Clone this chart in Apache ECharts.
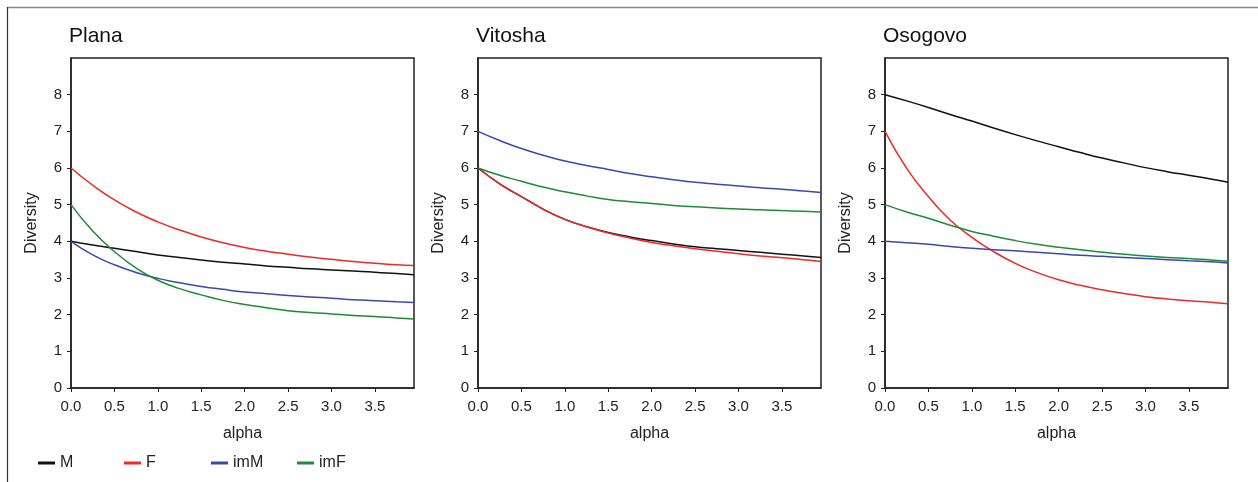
<!DOCTYPE html>
<html>
<head>
<meta charset="utf-8">
<script src="https://cdn.jsdelivr.net/npm/echarts@6/dist/echarts.min.js"></script>
<style>
  html, body { margin: 0; padding: 0; background: #fff; }
  #main { width: 1258px; height: 482px; }
</style>
</head>
<body>
<div id="main"></div>
<script>
// alpha values shared by all panels
var alpha = [0, 0.25, 0.5, 0.75, 1, 1.25, 1.5, 1.75, 2, 2.25, 2.5, 2.75, 3, 3.25, 3.5, 3.75, 3.95];

var panels = ['Plana', 'Vitosha', 'Osogovo'];
var seriesNames = ['M', 'F', 'imM', 'imF'];
var colors = ['#111111', '#f02828', '#3848b0', '#1e8c34'];

// Plana
var planaM   = [4.0, 3.90, 3.81, 3.72, 3.63, 3.56, 3.49, 3.43, 3.38, 3.33, 3.29, 3.25, 3.22, 3.19, 3.16, 3.12, 3.09];
var planaF   = [6.0, 5.53, 5.13, 4.80, 4.53, 4.31, 4.12, 3.96, 3.83, 3.73, 3.65, 3.57, 3.51, 3.45, 3.40, 3.36, 3.34];
var planaImM = [4.0, 3.63, 3.36, 3.15, 2.99, 2.87, 2.77, 2.69, 2.62, 2.57, 2.52, 2.48, 2.45, 2.41, 2.38, 2.35, 2.33];
var planaImF = [5.0, 4.28, 3.72, 3.27, 2.94, 2.71, 2.54, 2.39, 2.28, 2.19, 2.11, 2.06, 2.02, 1.98, 1.95, 1.91, 1.88];

// Vitosha
var vitoshaM   = [6.0, 5.57, 5.22, 4.88, 4.60, 4.40, 4.24, 4.12, 4.02, 3.93, 3.85, 3.80, 3.75, 3.70, 3.65, 3.60, 3.56];
var vitoshaF   = [6.0, 5.57, 5.22, 4.88, 4.60, 4.40, 4.23, 4.09, 3.97, 3.88, 3.80, 3.73, 3.66, 3.60, 3.55, 3.50, 3.45];
var vitoshaImM = [7.0, 6.75, 6.53, 6.35, 6.19, 6.07, 5.96, 5.85, 5.76, 5.68, 5.61, 5.56, 5.51, 5.46, 5.42, 5.37, 5.33];
var vitoshaImF = [6.0, 5.80, 5.64, 5.48, 5.35, 5.24, 5.14, 5.08, 5.03, 4.98, 4.94, 4.91, 4.88, 4.86, 4.84, 4.82, 4.80];

// Osogovo
var osogovoM   = [8.0, 7.83, 7.65, 7.46, 7.28, 7.09, 6.91, 6.74, 6.58, 6.42, 6.27, 6.14, 6.01, 5.90, 5.80, 5.70, 5.61];
var osogovoF   = [7.0, 5.99, 5.22, 4.58, 4.11, 3.72, 3.40, 3.15, 2.95, 2.80, 2.68, 2.58, 2.49, 2.43, 2.38, 2.34, 2.30];
var osogovoImM = [4.0, 3.96, 3.92, 3.86, 3.81, 3.77, 3.74, 3.70, 3.66, 3.62, 3.59, 3.56, 3.53, 3.50, 3.47, 3.44, 3.41];
var osogovoImF = [5.0, 4.80, 4.63, 4.44, 4.27, 4.14, 4.02, 3.92, 3.84, 3.77, 3.70, 3.65, 3.60, 3.56, 3.53, 3.49, 3.46];

var panelData = [
    [planaM, planaF, planaImM, planaImF],
    [vitoshaM, vitoshaF, vitoshaImM, vitoshaImF],
    [osogovoM, osogovoF, osogovoImM, osogovoImF]
];

var gridLefts = [71, 478, 885];
var legendLefts = [38, 124, 211, 297];
var font = 'Arial, "Liberation Sans", sans-serif';

function pairs(ys) {
    return alpha.map(function (a, i) { return [a, ys[i]]; });
}

var titles = [], grids = [], xAxes = [], yAxes = [], series = [], legends = [];
panels.forEach(function (name, p) {
    titles.push({
        text: name,
        left: gridLefts[p] - 7,
        top: 21,
        textStyle: { fontFamily: font, fontSize: 21, fontWeight: 'normal', color: '#111' }
    });
    grids.push({
        left: gridLefts[p], top: 58, width: 343, height: 330,
        show: true, borderColor: '#222', borderWidth: 1.5, backgroundColor: 'transparent'
    });
    xAxes.push({
        type: 'value', gridIndex: p, min: 0, max: 3.95, interval: 0.5,
        name: 'alpha', nameLocation: 'middle', nameGap: 38,
        nameTextStyle: { fontFamily: font, fontSize: 16, color: '#222' },
        axisLine: { show: true, lineStyle: { color: '#222', width: 1.5 } },
        axisTick: { show: true, length: 4, lineStyle: { color: '#222' } },
        axisLabel: {
            fontFamily: font, fontSize: 15, color: '#222', margin: 11,
            showMaxLabel: false,
            formatter: function (v) { return v.toFixed(1); }
        },
        splitLine: { show: false }
    });
    yAxes.push({
        type: 'value', gridIndex: p, min: 0, max: 9, interval: 1,
        name: 'Diversity', nameLocation: 'middle', nameGap: 31, nameRotate: 90,
        nameTextStyle: { fontFamily: font, fontSize: 16, color: '#222' },
        axisLine: { show: true, lineStyle: { color: '#222', width: 1.5 } },
        axisTick: { show: true, length: 4, lineStyle: { color: '#222' } },
        axisLabel: { fontFamily: font, fontSize: 15, color: '#222', margin: 9, showMaxLabel: false },
        splitLine: { show: false }
    });
    seriesNames.forEach(function (s, k) {
        series.push({
            name: s, type: 'line', xAxisIndex: p, yAxisIndex: p,
            data: pairs(panelData[p][k]),
            smooth: 0.5, showSymbol: false, symbol: 'none',
            lineStyle: { color: colors[k], width: 1.5 },
            itemStyle: { color: colors[k] },
            z: 3
        });
    });
});

seriesNames.forEach(function (s, k) {
    legends.push({
        data: [{ name: s, icon: 'rect', itemStyle: { color: colors[k] } }],
        left: legendLefts[k], top: 455, padding: 0,
        itemWidth: 17, itemHeight: 3, itemGap: 5,
        textStyle: { fontFamily: font, fontSize: 16, color: '#222' },
        selectedMode: false
    });
});

var myChart = echarts.init(document.getElementById('main'));
var option = {
    animation: false,
    backgroundColor: '#fff',
    title: titles,
    grid: grids,
    xAxis: xAxes,
    yAxis: yAxes,
    legend: legends,
    graphic: [
        { type: 'line', shape: { x1: 7, y1: 7.5, x2: 1258, y2: 7.5 }, style: { stroke: '#888', lineWidth: 1.5 } },
        { type: 'line', shape: { x1: 7.5, y1: 7, x2: 7.5, y2: 482 }, style: { stroke: '#333', lineWidth: 1.2 } }
    ],
    series: series
};
myChart.setOption(option);
</script>
</body>
</html>
